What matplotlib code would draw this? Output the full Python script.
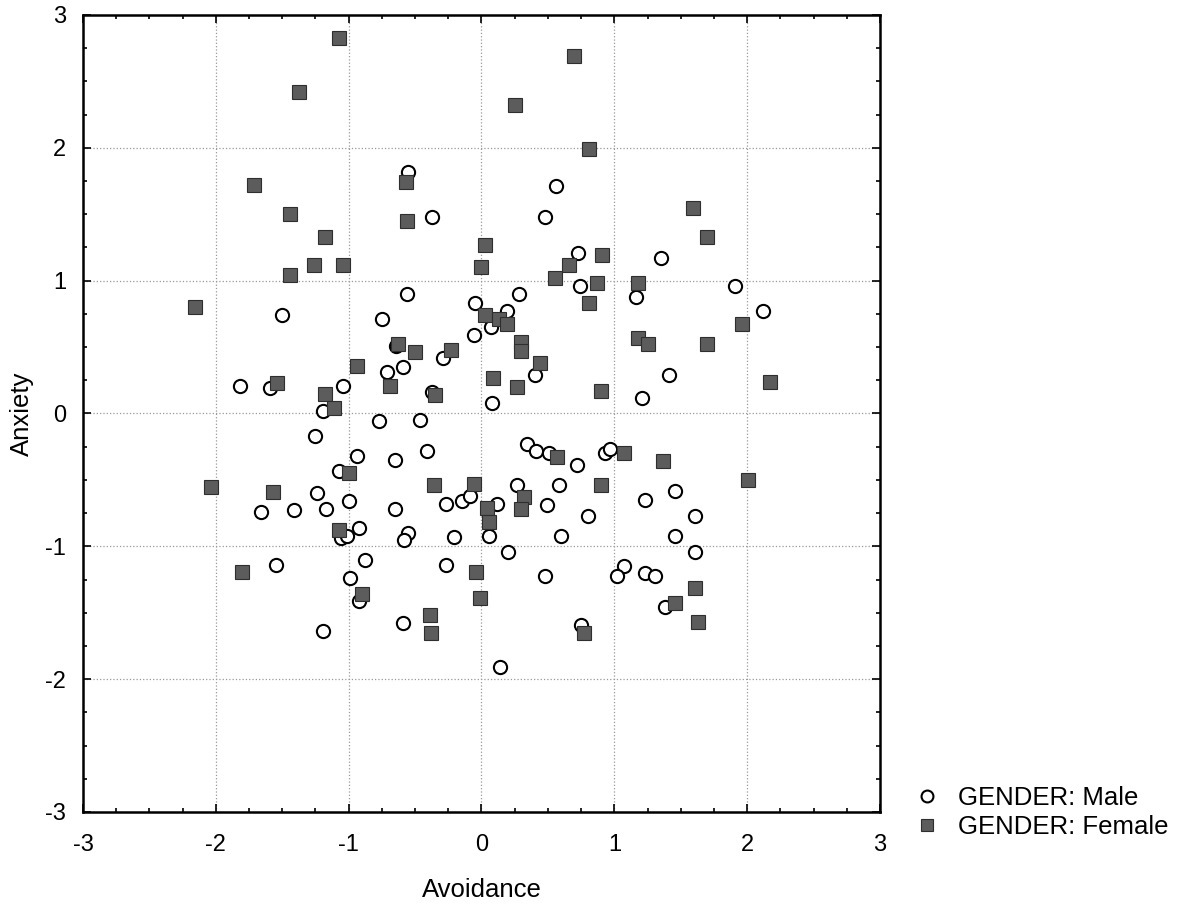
import matplotlib
matplotlib.use("Agg")
import matplotlib.pyplot as plt
from matplotlib.ticker import MultipleLocator

plt.rcParams['font.family'] = ['Liberation Sans', 'DejaVu Sans']
plt.rcParams['axes.unicode_minus'] = False

# GENDER: Male (avoidance, anxiety)
male_x = [-0.55, -0.37, -0.56, -0.05, -0.06, -1.50, -0.75, -0.64, -0.29, -0.71,
          -0.59, -1.82, -1.59, -1.04, -0.37, -1.19, -0.77, -0.46, -1.25, -0.94,
          -0.65, -0.41, -1.07, -1.24, -1.00, -1.66, -1.41, -1.17, -0.65, -0.27,
          -0.15, -0.92, -1.06, -1.01, -0.55, -0.58, -0.21, -1.55, -0.88, -0.99,
          -0.92, -0.27, -0.09, -0.59, -1.19,
          0.56, 0.48, 0.73, 1.35, 0.74, 1.91, 2.12, 0.28, 0.19, 0.07,
          0.40, 0.08, 1.41, 1.21, 1.16,
          0.34, 0.41, 0.51, 0.72, 0.93, 0.97, 0.27, 0.58, 0.12, 0.49,
          0.80, 0.06, 0.60, 0.20, 0.48, 0.75, 0.14, 1.23, 1.46, 1.61,
          1.46, 1.61, 1.07, 1.02, 1.23, 1.31, 1.38]
male_y = [1.82, 1.48, 0.90, 0.83, 0.59, 0.74, 0.71, 0.51, 0.42, 0.31,
          0.35, 0.21, 0.19, 0.21, 0.16, 0.02, -0.06, -0.05, -0.17, -0.32,
          -0.35, -0.28, -0.43, -0.60, -0.66, -0.74, -0.73, -0.72, -0.72, -0.68,
          -0.66, -0.86, -0.94, -0.92, -0.90, -0.95, -0.93, -1.14, -1.10, -1.24,
          -1.41, -1.14, -0.62, -1.58, -1.64,
          1.71, 1.48, 1.21, 1.17, 0.96, 0.96, 0.77, 0.90, 0.77, 0.65,
          0.29, 0.08, 0.29, 0.12, 0.88,
          -0.23, -0.28, -0.30, -0.39, -0.30, -0.27, -0.54, -0.54, -0.68, -0.69,
          -0.77, -0.92, -0.92, -1.04, -1.22, -1.59, -1.91, -0.65, -0.58, -0.77,
          -0.92, -1.04, -1.15, -1.22, -1.20, -1.22, -1.46]

# GENDER: Female (avoidance, anxiety)
female_x = [-1.07, -1.37, -1.71, -1.44, -0.57, -0.56, -1.18, -1.26, -1.04, -1.44,
            0.03, 0.00, -2.16, -0.63, -0.50, -0.23, 0.03, -0.94, -1.54, -0.69,
            -0.35, -1.18, -1.11,
            0.70, 0.25, 0.81, 1.59, 1.70, 0.91, 0.66, 0.55, 0.87, 0.81,
            1.18, 1.96, 1.18, 1.25, 1.70, 2.17, 0.13, 0.19, 0.30, 0.30,
            0.44, 0.09, 0.27, 0.90,
            -1.00, -0.36, -0.06, -2.04, -1.57, -1.07, -1.80, -0.90, -0.04, -0.01,
            -0.39, -0.38,
            0.57, 1.07, 1.37, 2.01, 0.90, 0.32, 0.30, 0.04, 0.06, 1.61,
            1.46, 1.63, 0.77]
female_y = [2.83, 2.42, 1.72, 1.50, 1.74, 1.45, 1.33, 1.12, 1.12, 1.04,
            1.27, 1.10, 0.80, 0.52, 0.46, 0.48, 0.74, 0.36, 0.23, 0.21,
            0.14, 0.15, 0.04,
            2.69, 2.32, 1.99, 1.55, 1.33, 1.19, 1.12, 1.02, 0.98, 0.83,
            0.98, 0.67, 0.57, 0.52, 0.52, 0.24, 0.71, 0.67, 0.54, 0.47,
            0.38, 0.27, 0.20, 0.17,
            -0.45, -0.54, -0.53, -0.55, -0.59, -0.88, -1.19, -1.36, -1.19, -1.39,
            -1.52, -1.65,
            -0.33, -0.30, -0.36, -0.50, -0.54, -0.63, -0.72, -0.71, -0.82, -1.31,
            -1.43, -1.57, -1.65]

fig = plt.figure(figsize=(11.94, 9.14), dpi=100)
ax = fig.add_axes([0.0695, 0.1116, 0.6675, 0.872])

ax.plot(male_x, male_y, linestyle='none', marker='o', markersize=9.5,
        markerfacecolor='white', markeredgecolor='black', markeredgewidth=1.5,
        label='GENDER: Male', zorder=3)
ax.plot(female_x, female_y, linestyle='none', marker='s', markersize=10,
        markerfacecolor='#5c5c5c', markeredgecolor='#2e2e2e', markeredgewidth=0.8,
        label='GENDER: Female', zorder=3)

ax.set_xlim(-3, 3)
ax.set_ylim(-3, 3)
ax.xaxis.set_major_locator(MultipleLocator(1))
ax.yaxis.set_major_locator(MultipleLocator(1))
ax.xaxis.set_minor_locator(MultipleLocator(0.25))
ax.yaxis.set_minor_locator(MultipleLocator(0.25))
ax.tick_params(which='both', direction='in', top=True, right=True, width=1.2)
ax.tick_params(which='major', length=6, labelsize=17)
ax.tick_params(axis='x', which='major', pad=16)
ax.tick_params(axis='y', which='major', pad=12)
ax.tick_params(which='minor', length=3)
ax.grid(True, which='major', linestyle=':', color='#999999', linewidth=0.9)
for s in ax.spines.values():
    s.set_linewidth(1.8)

ax.set_xlabel('Avoidance', fontsize=18.5, labelpad=16)
ax.set_ylabel('Anxiety', fontsize=18.5, labelpad=8)

ax.legend(loc='lower left', bbox_to_anchor=(1.03, -0.047), frameon=False,
          fontsize=18.5, handletextpad=0.7, labelspacing=0.2, handlelength=1.0,
          borderaxespad=0, markerscale=0.9)

fig.savefig('out.png', dpi=100)
